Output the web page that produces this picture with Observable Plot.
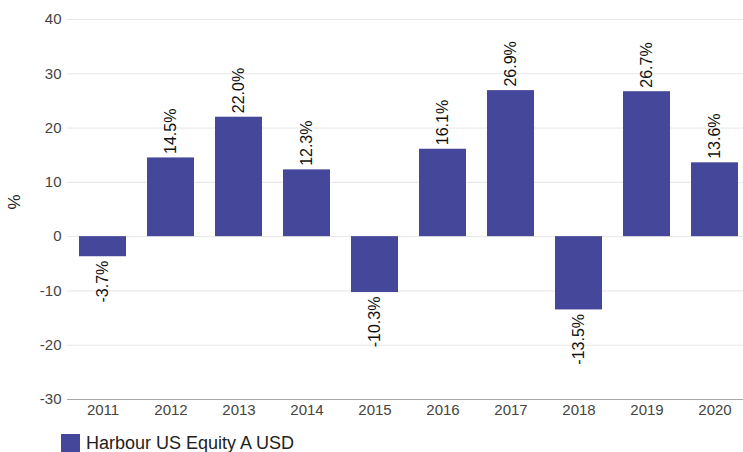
<!DOCTYPE html>
<html><head><meta charset="utf-8">
<script src="https://cdn.jsdelivr.net/npm/d3@7"></script>
<script src="https://cdn.jsdelivr.net/npm/@observablehq/plot@0.6"></script>
<style>
body{margin:0;background:#fff;font-family:"Liberation Sans",Arial,sans-serif;}
#legend{display:flex;align-items:center;padding-left:61px;margin-top:8px;font-size:18px;color:#222;}
#legend span.sw{display:inline-block;width:19px;height:19px;background:#45479a;margin-right:6px;}
</style>
</head><body>
<div id="chart"></div>
<div id="legend"><span class="sw"></span><span>Harbour US Equity A USD</span></div>
<script>
const years = ["2011","2012","2013","2014","2015","2016","2017","2018","2019","2020"];
const returns = [-3.7, 14.5, 22.0, 12.3, -10.3, 16.1, 26.9, -13.5, 26.7, 13.6];
const yTicks = [-30,-20,-10,0,10,20,30,40];
const seriesName = "Harbour US Equity A USD";

const data = years.map((y,i)=>({year:y, value:returns[i]}));
const pos = data.filter(d=>d.value>=0);
const neg = data.filter(d=>d.value<0);
const fmt = v => v.toFixed(1) + "%";

const chart = Plot.plot({
  width: 743, height: 425,
  marginLeft: 67, marginRight: 0, marginTop: 19, marginBottom: 26,
  style: {fontFamily: '"Liberation Sans", Arial, sans-serif', background: "#fff"},
  x: {domain: years, range: [68, 749], paddingInner: 0.31, paddingOuter: 0.155},
  y: {domain: [-30, 40]},
  marks: [
    Plot.gridY(yTicks, {stroke: "#e6e6e6", strokeOpacity: 1}),
    Plot.barY(data, {x: "year", y: "value", fill: "#45479a"}),
    Plot.ruleX([0], {x: () => null, frameAnchor: "left", y1: -30, y2: 40, stroke: "#aaa"}),
    Plot.ruleY([-30], {stroke: "#aaa"}),
    Plot.axisY(yTicks, {tickSize: 0, tickPadding: 6, fontSize: 15, fill: "#444", label: null, tickFormat: d => String(d)}),
    Plot.axisX({tickSize: 0, tickPadding: 5, fontSize: 15, fill: "#444", label: null}),
    Plot.text(["%"], {frameAnchor: "left", dx: -53, dy: 0, rotate: -90, fontSize: 17, fill: "#222"}),
    Plot.text(pos, {x: "year", y: "value", text: d => fmt(d.value), rotate: -90, textAnchor: "start", dy: -4, fontSize: 16, fill: "#111"}),
    Plot.text(neg, {x: "year", y: "value", text: d => fmt(d.value), rotate: -90, textAnchor: "end", dy: 4, fontSize: 16, fill: "#111"})
  ]
});
document.getElementById("chart").appendChild(chart);
</script>
</body></html>
